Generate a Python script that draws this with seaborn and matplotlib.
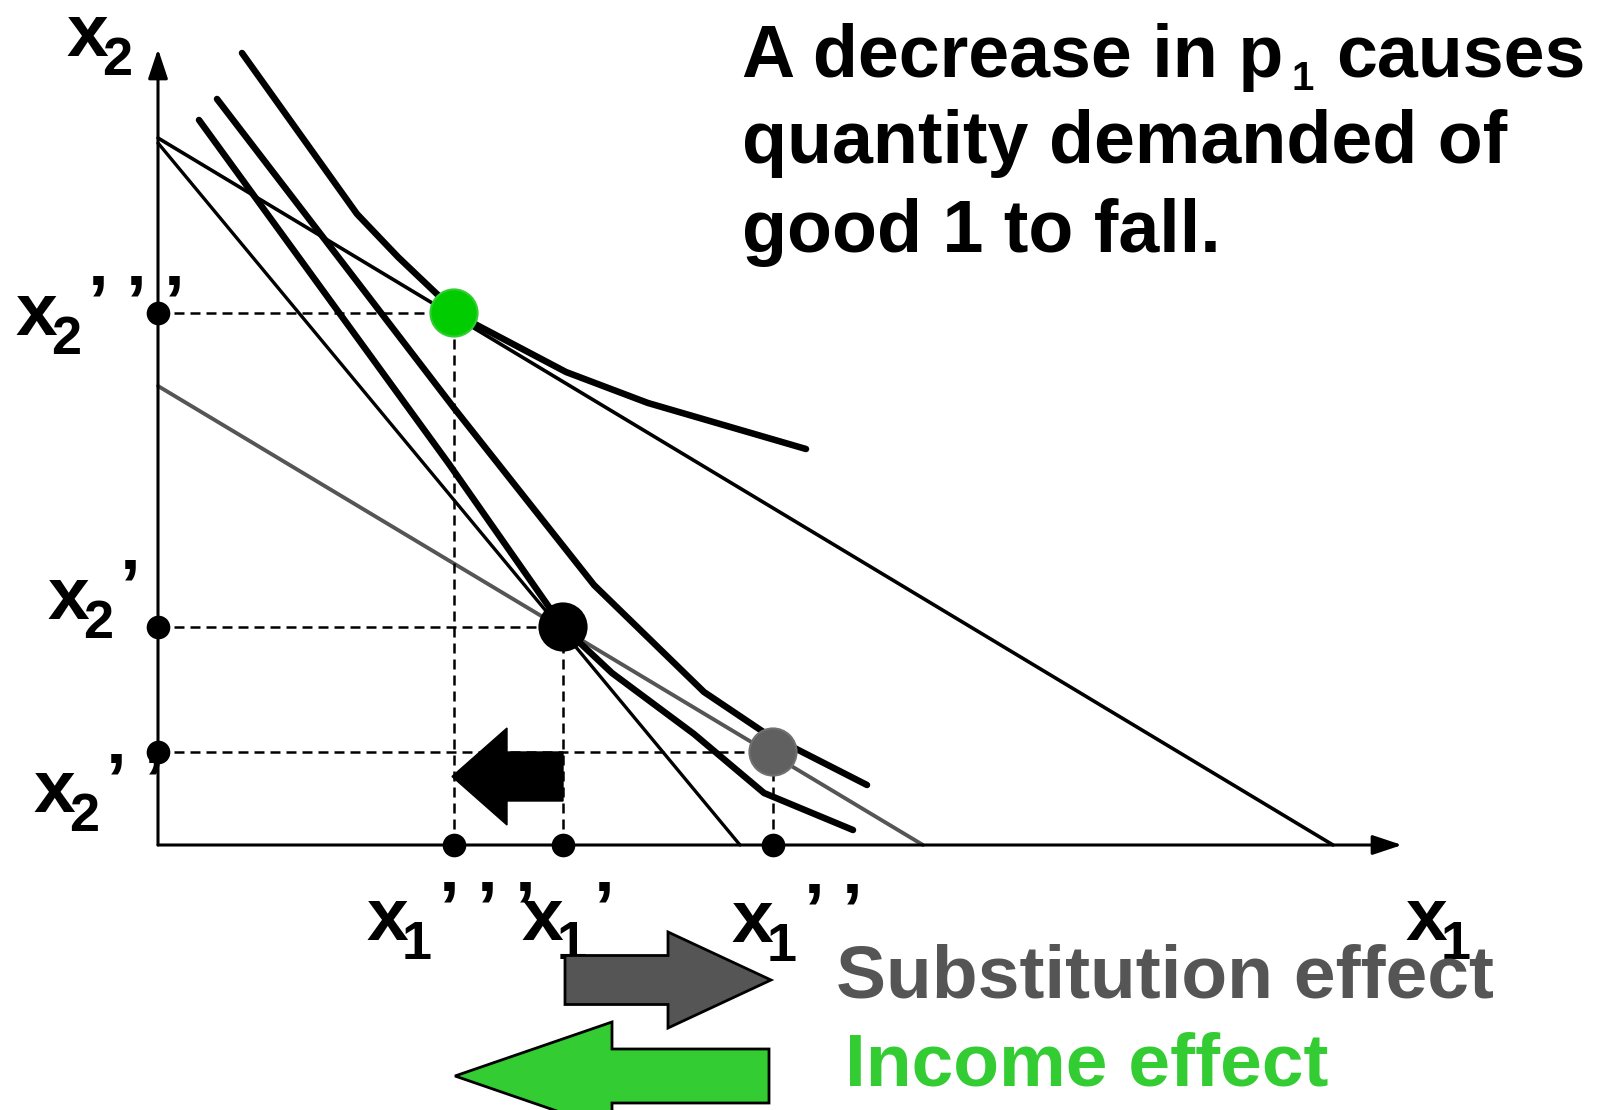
import numpy as np
import pandas as pd
import seaborn as sns
import matplotlib.pyplot as plt
from matplotlib.patches import FancyArrow

# Budget lines: end points on the axes (x1, x2)
budget_orig_x = [0.0, 11.75]
budget_orig_y = [7.07, 0.0]
budget_steep_x = [0.0, 5.82]
budget_steep_y = [7.02, 0.0]
budget_comp_x = [0.0, 7.65]
budget_comp_y = [4.59, 0.0]

# Indifference curves
ic_top_x = [0.84, 1.99, 2.40, 2.81, 2.96, 4.08, 4.90, 6.48]
ic_top_y = [7.92, 6.31, 5.88, 5.49, 5.32, 4.73, 4.42, 3.96]
ic_mid_x = [0.59, 2.96, 4.36, 5.46, 6.07, 7.09]
ic_mid_y = [7.46, 4.37, 2.60, 1.53, 1.12, 0.60]
ic_low_x = [0.41, 2.91, 4.05, 4.54, 5.36, 6.06, 6.95]
ic_low_y = [7.25, 3.81, 2.18, 1.72, 1.11, 0.52, 0.15]

# Chosen bundles: x''' (green), x' (black), x'' (gray)
bundle_names = ["x'''", "x'", "x''"]
bundle_x1 = [2.96, 4.05, 6.15]
bundle_x2 = [5.32, 2.18, 0.93]
bundle_colors = ['#00cc00', '#000000', '#606060']

# Axis labels: subscript and number of primes
x2_subs = ['2', '2', '2', '2']
x2_primes = [0, 3, 1, 2]
x1_subs = ['1', '1', '1', '1']
x1_primes = [3, 1, 2, 0]

title_lines = ["quantity demanded of", "good 1 to fall."]
effect_labels = ["Substitution effect", "Income effect"]
effect_colors = ['#555555', '#33cc33']

sns.set_theme(style="white")
plt.rcParams['font.family'] = ['Liberation Sans', 'DejaVu Sans']

fig = plt.figure(figsize=(16, 11.1), dpi=100)
ax = fig.add_axes([0, 0, 1, 1])
ax.set_xlim(-1.58, 14.42)
ax.set_ylim(-2.65, 8.45)
ax.axis('off')


def px(x, y):
    # pixel position -> data units
    return (x - 158) / 100, (845 - y) / 100


# axes with arrow heads
arr = dict(arrowstyle='-|>,head_length=0.9,head_width=0.3', lw=2.2,
           color='black', mutation_scale=20, shrinkA=0, shrinkB=0)
ax.annotate('', xy=(12.44, 0), xytext=(0, 0), arrowprops=arr)
ax.annotate('', xy=(0, 7.96), xytext=(0, 0), arrowprops=arr)

# budget lines
sns.lineplot(x=budget_orig_x, y=budget_orig_y, color='black', lw=2.6, ax=ax)
sns.lineplot(x=budget_steep_x, y=budget_steep_y, color='black', lw=2.4, ax=ax)
sns.lineplot(x=budget_comp_x, y=budget_comp_y, color='#555555', lw=2.8, ax=ax)

# indifference curves
for cx, cy in [(ic_top_x, ic_top_y), (ic_mid_x, ic_mid_y), (ic_low_x, ic_low_y)]:
    sns.lineplot(x=cx, y=cy, sort=False, estimator=None, color='black',
                 lw=4.7, ax=ax)

# dashed guides
ax.hlines(bundle_x2, 0, bundle_x1, colors='black', lw=1.8,
          linestyles=(0, (4, 2.4)), zorder=2)
ax.vlines(bundle_x1, 0, bundle_x2, colors='black', lw=1.8,
          linestyles=(0, (4, 2.4)), zorder=2)

# block arrows
ax.add_patch(FancyArrow(4.05, 0.685, -1.11, 0, width=0.49, head_width=0.97,
                        head_length=0.55, length_includes_head=True,
                        fc='black', ec='black', lw=1, zorder=4))
ax.add_patch(FancyArrow(4.07, -1.35, 2.06, 0, width=0.49, head_width=0.96,
                        head_length=1.03, length_includes_head=True,
                        fc='#555555', ec='black', lw=2, zorder=4))
ax.add_patch(FancyArrow(6.11, -2.31, -3.14, 0, width=0.54, head_width=1.08,
                        head_length=1.57, length_includes_head=True,
                        fc='#33cc33', ec='black', lw=2, zorder=4))

# bundle points
df_b = pd.DataFrame({'x1': bundle_x1, 'x2': bundle_x2, 'bundle': bundle_names})
sns.scatterplot(data=df_b, x='x1', y='x2', hue='bundle',
                palette=dict(zip(bundle_names, bundle_colors)), s=1150,
                edgecolor=['#33cc33', '#000000', '#707070'], linewidth=1.5,
                legend=False, zorder=6, ax=ax)
# dots on the axes
sns.scatterplot(x=[0] * 3, y=bundle_x2, color='black', s=290, linewidth=0,
                zorder=6, ax=ax)
sns.scatterplot(x=bundle_x1, y=[0] * 3, color='black', s=290, linewidth=0,
                zorder=6, ax=ax)

# title text
bold = dict(fontweight='bold', ha='left', va='baseline', color='black')
ax.text(*px(742, 77), "A decrease in p", fontsize=53, **bold)
ax.text(*px(1291, 90), "1", fontsize=29, **bold)
ax.text(*px(1336, 77), "causes", fontsize=53, **bold)
for i, line in enumerate(title_lines):
    ax.text(*px(742, 163 + 89 * i), line, fontsize=53, **bold)


def var_label(x, y, sub, primes):
    ax.text(*px(x, y), "x", fontsize=54, **bold)
    ax.text(*px(x + 36, y + 19), sub, fontsize=39, **bold)
    for k in range(primes):
        ax.text(*px(x + 73 + 38 * k, y - 8), "\u2019", fontsize=54, **bold)


x2_pos = [(66, 56), (15, 335), (47, 619), (33, 812)]
for (x, y), s, p in zip(x2_pos, x2_subs, x2_primes):
    var_label(x, y, s, p)
x1_pos = [(366, 940), (521, 940), (731, 942), (1405, 940)]
for (x, y), s, p in zip(x1_pos, x1_subs, x1_primes):
    var_label(x, y, s, p)

# effect labels
for (x, y), txt, col in zip([(836, 998), (845, 1086)], effect_labels,
                            effect_colors):
    ax.text(*px(x, y), txt, fontsize=54, fontweight='bold', color=col,
            ha='left', va='baseline', zorder=7)

fig.savefig('out.png', dpi=100)
